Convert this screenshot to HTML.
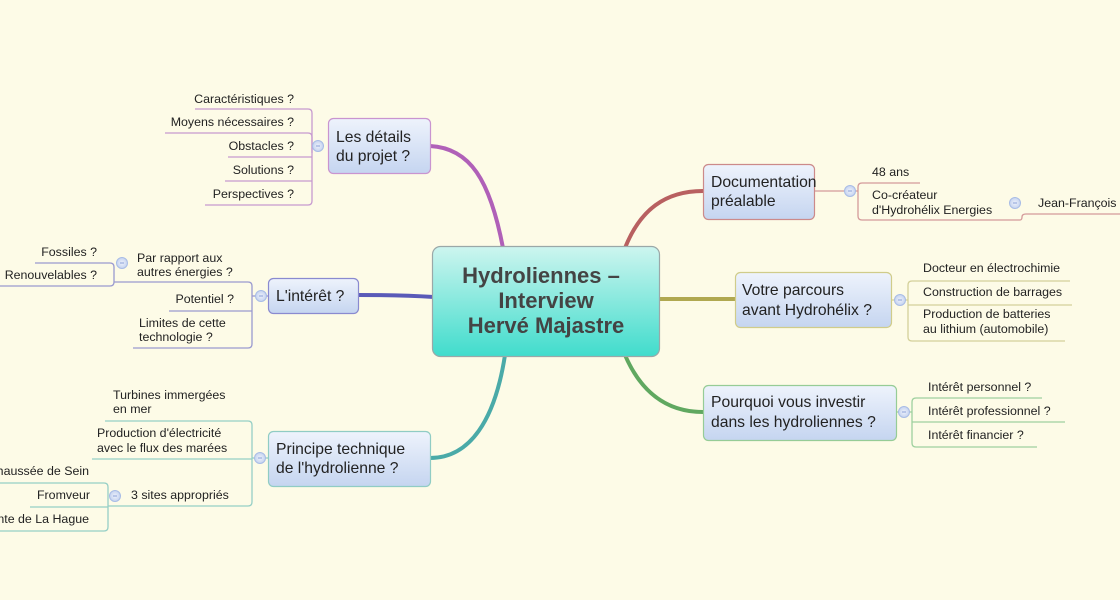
<!DOCTYPE html>
<html><head><meta charset="utf-8"><style>
html,body{margin:0;padding:0;background:#fdfbe7;}
svg{display:block;}
text{font-family:"Liberation Sans",sans-serif;fill:#222;}
.s{font-size:12.4px;}
.m{font-size:15.7px;}
.c{font-size:22px;font-weight:bold;fill:#444;}
</style></head><body>
<svg width="1120" height="600" viewBox="0 0 1120 600" xmlns="http://www.w3.org/2000/svg">
<defs>
<linearGradient id="g" x1="0" y1="0" x2="0" y2="1"><stop offset="0" stop-color="#eef3fc"/><stop offset="1" stop-color="#c5d5f0"/></linearGradient>
<linearGradient id="cg" x1="0" y1="0" x2="0" y2="1"><stop offset="0" stop-color="#cdf5ef"/><stop offset="1" stop-color="#40dccc"/></linearGradient>
<radialGradient id="cc"><stop offset="0" stop-color="#eef2fb"/><stop offset="1" stop-color="#c4d2ef"/></radialGradient>
</defs>
<rect width="1120" height="600" fill="#fdfbe7"/>

<g fill="none" stroke-linecap="round">
<path d="M503 248 C490 180 470 148 430 146" stroke="#b060b8" stroke-width="4"/>
<path d="M434 297 C400 295 380 295 358 295" stroke="#5a5ab8" stroke-width="4"/>
<path d="M505 355 C495 420 470 458 430 458" stroke="#4aaaa8" stroke-width="4"/>
<path d="M625 248 C640 210 665 191 703 191" stroke="#b86060" stroke-width="4"/>
<path d="M658 299 C690 299 710 299 735 299" stroke="#b0a850" stroke-width="4"/>
<path d="M625 355 C640 390 665 412 703 412" stroke="#60a860" stroke-width="4"/>
</g>

<g fill="none" stroke-width="1.3">
<g stroke="#c79ad0">
<path d="M195 109 H308 Q312 109 312 113 V201 Q312 205 308 205 H205"/>
<path d="M165 133 H308 Q312 133 312 137 V153"/>
<path d="M228 157 H312"/><path d="M225 181 H312"/>
<line x1="312" y1="146" x2="324" y2="146"/>
</g>
<g stroke="#9a9ad0">
<path d="M114 282 H248 Q252 282 252 286 V344 Q252 348 248 348 H133"/>
<path d="M169 311 H252"/>
<line x1="252" y1="296" x2="268" y2="296"/>
<path d="M35 263 H110 Q114 263 114 267 V282 Q114 286 110 286 H0"/>
</g>
<g stroke="#96cfc6">
<path d="M105 421 H248 Q252 421 252 425 V502 Q252 506 248 506 H108"/>
<path d="M92 459 H252"/>
<line x1="252" y1="458" x2="268" y2="458"/>
<path d="M0 483 H104 Q108 483 108 487 V527 Q108 531 104 531 H0"/>
<path d="M30 507 H108"/>
</g>
<g stroke="#d49a9a">
<path d="M920 183 H862 Q858 183 858 187 V216 Q858 220 862 220 H1020 Q1022 220 1022 217 Q1022 214 1026 214 H1120"/>
<line x1="814" y1="191" x2="858" y2="191"/>
</g>
<g stroke="#d4d09a">
<path d="M1070 281 H912 Q908 281 908 285 V337 Q908 341 912 341 H1065"/>
<path d="M908 305 H1072"/>
<line x1="891" y1="300" x2="908" y2="300"/>
</g>
<g stroke="#9ed09e">
<path d="M1042 398 H916 Q912 398 912 402 V443 Q912 447 916 447 H1037"/>
<path d="M912 422 H1065"/>
<line x1="896" y1="412" x2="912" y2="412"/>
</g>
</g>

<g fill="url(#cc)" stroke="#a8bce6" stroke-width="1">
<circle cx="318" cy="146" r="5.5"/><circle cx="261" cy="296" r="5.5"/>
<circle cx="122" cy="263" r="5.5"/><circle cx="260" cy="458" r="5.5"/>
<circle cx="115" cy="496" r="5.5"/><circle cx="850" cy="191" r="5.5"/>
<circle cx="1015" cy="203" r="5.5"/><circle cx="900" cy="300" r="5.5"/>
<circle cx="904" cy="412" r="5.5"/>
</g>
<g stroke="#8aa0d8" stroke-width="1">
<line x1="316" y1="146" x2="320" y2="146"/><line x1="259" y1="296" x2="263" y2="296"/>
<line x1="120" y1="263" x2="124" y2="263"/><line x1="258" y1="458" x2="262" y2="458"/>
<line x1="113" y1="496" x2="117" y2="496"/><line x1="848" y1="191" x2="852" y2="191"/>
<line x1="1013" y1="203" x2="1017" y2="203"/><line x1="898" y1="300" x2="902" y2="300"/>
<line x1="902" y1="412" x2="906" y2="412"/>
</g>

<rect x="432.5" y="246.5" width="227" height="110" rx="8" fill="url(#cg)" stroke="#9aa8a8" stroke-width="1.2"/>
<text class="c" x="541" y="283" text-anchor="middle">Hydroliennes –</text>
<text class="c" x="546" y="308" text-anchor="middle">Interview</text>
<text class="c" x="546" y="333" text-anchor="middle">Hervé Majastre</text>

<rect x="328.5" y="118.5" width="102" height="55" rx="5" fill="url(#g)" stroke="#c994d0" stroke-width="1.2"/>
<text class="m" x="336" y="142">Les détails</text><text class="m" x="336" y="161">du projet ?</text>

<rect x="268.5" y="278.5" width="90" height="35" rx="5" fill="url(#g)" stroke="#8a8ad0" stroke-width="1.2"/>
<text class="m" x="276" y="301">L'intérêt ?</text>

<rect x="268.5" y="431.5" width="162" height="55" rx="5" fill="url(#g)" stroke="#90ccc4" stroke-width="1.2"/>
<text class="m" x="276" y="454">Principe technique</text><text class="m" x="276" y="473">de l'hydrolienne ?</text>

<rect x="703.5" y="164.5" width="111" height="55" rx="5" fill="url(#g)" stroke="#cc8a8a" stroke-width="1.2"/>
<text class="m" x="711" y="187">Documentation</text><text class="m" x="711" y="206">préalable</text>

<rect x="735.5" y="272.5" width="156" height="55" rx="5" fill="url(#g)" stroke="#d0cc8a" stroke-width="1.2"/>
<text class="m" x="742" y="295">Votre parcours</text><text class="m" x="742" y="315">avant Hydrohélix ?</text>

<rect x="703.5" y="385.5" width="193" height="55" rx="5" fill="url(#g)" stroke="#96cc96" stroke-width="1.2"/>
<text class="m" x="711" y="407">Pourquoi vous investir</text><text class="m" x="711" y="427">dans les hydroliennes ?</text>

<g>
<text class="s" x="294" y="103" text-anchor="end">Caractéristiques ?</text>
<text class="s" x="294" y="126" text-anchor="end">Moyens nécessaires ?</text>
<text class="s" x="294" y="150" text-anchor="end">Obstacles ?</text>
<text class="s" x="294" y="174" text-anchor="end">Solutions ?</text>
<text class="s" x="294" y="198" text-anchor="end">Perspectives ?</text>

<text class="s" x="137" y="262">Par rapport aux</text>
<text class="s" x="137" y="276">autres énergies ?</text>
<text class="s" x="234" y="303" text-anchor="end">Potentiel ?</text>
<text class="s" x="139" y="327">Limites de cette</text>
<text class="s" x="139" y="341">technologie ?</text>
<text class="s" x="97" y="256" text-anchor="end">Fossiles ?</text>
<text class="s" x="97" y="279" text-anchor="end">Renouvelables ?</text>

<text class="s" x="113" y="399">Turbines immergées</text>
<text class="s" x="113" y="413">en mer</text>
<text class="s" x="97" y="437">Production d'électricité</text>
<text class="s" x="97" y="452">avec le flux des marées</text>
<text class="s" x="131" y="499">3 sites appropriés</text>
<text class="s" x="89" y="475" text-anchor="end">Chaussée de Sein</text>
<text class="s" x="90" y="499" text-anchor="end">Fromveur</text>
<text class="s" x="89" y="523" text-anchor="end">Pointe de La Hague</text>

<text class="s" x="872" y="176">48 ans</text>
<text class="s" x="872" y="199">Co-créateur</text>
<text class="s" x="872" y="214">d'Hydrohélix Energies</text>
<text class="s" x="1038" y="207">Jean-François</text>

<text class="s" x="923" y="272">Docteur en électrochimie</text>
<text class="s" x="923" y="296">Construction de barrages</text>
<text class="s" x="923" y="318">Production de batteries</text>
<text class="s" x="923" y="333">au lithium (automobile)</text>

<text class="s" x="928" y="391">Intérêt personnel ?</text>
<text class="s" x="928" y="415">Intérêt professionnel ?</text>
<text class="s" x="928" y="439">Intérêt financier ?</text>
</g>
</svg>
</body></html>
